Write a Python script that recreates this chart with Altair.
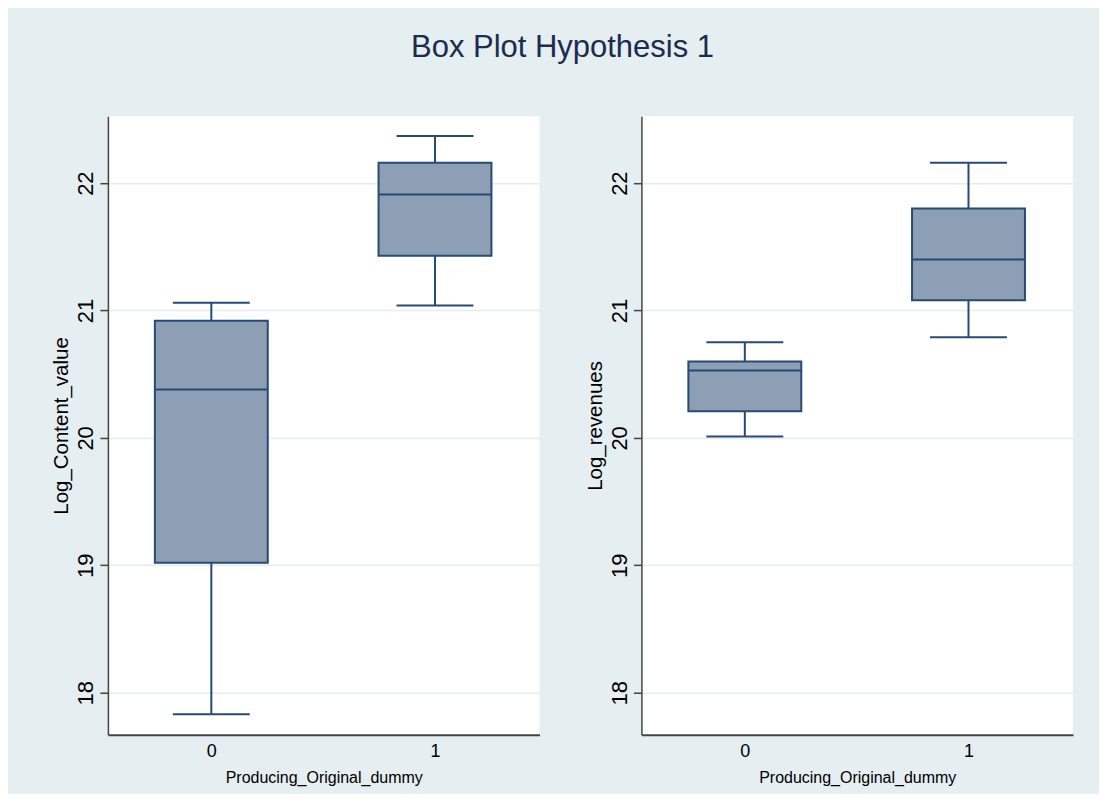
import altair as alt
import pandas as pd

# ---- data ----
groups = [0, 1]

content_lower = [17.83, 21.04]
content_q1 = [19.02, 21.43]
content_median = [20.38, 21.91]
content_q3 = [20.92, 22.16]
content_upper = [21.06, 22.37]

revenue_lower = [20.01, 20.79]
revenue_q1 = [20.21, 21.08]
revenue_median = [20.53, 21.40]
revenue_q3 = [20.60, 21.80]
revenue_upper = [20.75, 22.16]

y_ticks = [18, 19, 20, 21, 22]
x_ticks = [0, 1]

# ---- styling ----
FONT = "Liberation Sans"
BG = "#E5EEF0"
FILL = "#8C9FB4"
STROKE = "#274B73"
AXIS = "#444444"
PW, PH = 432, 619
BOX_W, CAP_W = 113, 77

x_scale = alt.Scale(domain=[-0.44, 1.445], nice=False, zero=False)
y_scale = alt.Scale(domain=[17.67, 22.525], nice=False, zero=False)


def y_axis(title):
    return alt.Axis(values=y_ticks, title=title, grid=True,
                    gridColor="#E3ECEE", gridWidth=1.5,
                    labelAngle=270, labelAlign="center",
                    labelBaseline="alphabetic", labelPadding=7,
                    labelFontSize=22, labelColor="black",
                    labelFlush=False, labelOverlap=False,
                    tickSize=8, tickColor=AXIS, tickWidth=1.5,
                    domainColor=AXIS, domainWidth=1.5,
                    titleFontSize=20.5, titleFontWeight="normal",
                    titleColor="black", titleAngle=270,
                    titleAlign="center", titleBaseline="middle",
                    titleX=-46, titleY=PH / 2, format="d")


def panel(lower, q1, med, q3, upper, ytitle):
    df = pd.DataFrame({"group": groups, "lower": lower, "q1": q1,
                       "median": med, "q3": q3, "upper": upper})
    x_enc = alt.X("group:Q", scale=x_scale,
                  axis=alt.Axis(values=x_ticks, title="Producing_Original_dummy",
                                grid=False, ticks=False, tickSize=0,
                                labelFontSize=18, labelPadding=8,
                                labelFlush=False, labelColor="black",
                                domainColor=AXIS, domainWidth=2,
                                titleFontSize=16, titleFontWeight="normal",
                                titleColor="black", titlePadding=9,
                                format="d"))
    ax = y_axis(ytitle)
    base = alt.Chart(df).encode(x=x_enc)
    whisker = base.mark_rule(color=STROKE, strokeWidth=2).encode(
        y=alt.Y("lower:Q", scale=y_scale, axis=ax), y2="upper:Q")
    box = base.mark_bar(size=BOX_W, fill=FILL, stroke=STROKE, strokeWidth=2,
                        opacity=1).encode(
        y=alt.Y("q1:Q", scale=y_scale, axis=ax), y2="q3:Q")
    median = base.mark_tick(orient="horizontal", size=BOX_W, thickness=2,
                            color=STROKE, opacity=1).encode(
        y=alt.Y("median:Q", scale=y_scale, axis=ax))
    cap_lo = base.mark_tick(orient="horizontal", size=CAP_W, thickness=2,
                            color=STROKE, opacity=1).encode(
        y=alt.Y("lower:Q", scale=y_scale, axis=ax))
    cap_hi = base.mark_tick(orient="horizontal", size=CAP_W, thickness=2,
                            color=STROKE, opacity=1).encode(
        y=alt.Y("upper:Q", scale=y_scale, axis=ax))
    return alt.layer(whisker, box, median, cap_lo, cap_hi).properties(
        width=PW, height=PH)


left = panel(content_lower, content_q1, content_median, content_q3,
             content_upper, "Log_Content_value")
right = panel(revenue_lower, revenue_q1, revenue_median, revenue_q3,
              revenue_upper, "Log_revenues")

chart = alt.hconcat(left, right, spacing=46).properties(
    title=alt.Title("Box Plot Hypothesis 1", fontSize=31, font=FONT,
                    fontWeight="normal", color="#1C2B4F", anchor="middle",
                    offset=52),
    padding={"left": 44, "top": 24, "right": 26, "bottom": 8},
    background=BG,
).configure(font=FONT).configure_view(fill="white", stroke=None)

chart.save("out.html", embed_options={"renderer": "svg", "actions": False})
